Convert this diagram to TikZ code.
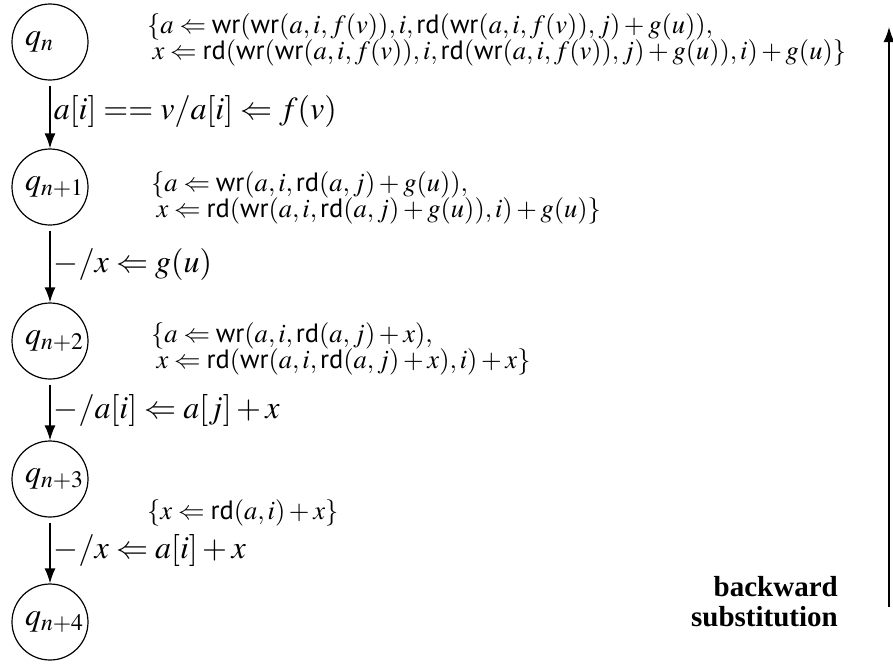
\documentclass[tikz,border=0pt]{standalone}
\usepackage{mathptmx}
\usepackage[no-math]{fontspec}
\setmainfont{Liberation Serif}
\newfontfamily\bwfont{Liberation Serif Bold}
\newfontfamily\opfont{PT Sans}
\usetikzlibrary{arrows.meta}
\newcommand{\opwr}{\mathord{\mbox{\opfont wr}}}
\newcommand{\oprd}{\mathord{\mbox{\opfont rd}}}
\begin{document}
\begin{tikzpicture}[x=1pt,y=-1pt,
  state/.style={circle, draw, line width=1.2pt, minimum size=76pt, inner sep=0pt, font=\fontsize{32}{36}\selectfont},
  tr/.style={-{Latex[length=15pt,width=11pt]}, line width=1.5pt},
  elab/.style={anchor=west, inner sep=3pt, font=\fontsize{32}{36}\selectfont},
  subst/.style={anchor=west, align=left, inner sep=0pt, font=\fontsize{26.5}{26.5}\selectfont},
  bwtext/.style={anchor=east, align=right, inner sep=0pt, font=\fontsize{29}{30}\selectfont\bwfont}]
\useasboundingbox (0,0) rectangle (893,664);
\node[state] (q0) at (50,42) {\makebox[50pt][l]{$q_n$}};
\node[state] (q1) at (50,187) {\makebox[50pt][l]{$q_{n+1}$}};
\node[state] (q2) at (50,341) {\makebox[50pt][l]{$q_{n+2}$}};
\node[state] (q3) at (50,479) {\makebox[50pt][l]{$q_{n+3}$}};
\node[state] (q4) at (50,622) {\makebox[50pt][l]{$q_{n+4}$}};
\draw[tr, shorten <=5pt] (q0) -- node[elab, yshift=3pt] (l0) {$a[i]==v/a[i]\Leftarrow f(v)$} (q1);
\draw[tr, shorten <=5pt] (q1) -- node[elab] (l1) {$-/x\Leftarrow g(u)$} (q2);
\draw[tr, shorten <=5pt] (q2) -- node[elab] (l2) {$-/a[i]\Leftarrow a[j]+x$} (q3);
\draw[tr, shorten <=5pt] (q3) -- node[elab] (l3) {$-/x\Leftarrow a[i]+x$} (q4);
\node[subst] (s0) at (147,40) {$\{a\Leftarrow \opwr(\opwr(a,i,f(v)),i,\oprd(\opwr(a,i,f(v)),j)+g(u)),$\\
  $\hspace{0.2em}x\Leftarrow \oprd(\opwr(\opwr(a,i,f(v)),i,\oprd(\opwr(a,i,f(v)),j)+g(u)),i)+g(u)\}$};
\node[subst] (s1) at (151,198) {$\{a\Leftarrow \opwr(a,i,\oprd(a,j)+g(u)),$\\
  $\hspace{0.2em}x\Leftarrow \oprd(\opwr(a,i,\oprd(a,j)+g(u)),i)+g(u)\}$};
\node[subst] (s2) at (151,349) {$\{a\Leftarrow \opwr(a,i,\oprd(a,j)+x),$\\
  $\hspace{0.2em}x\Leftarrow \oprd(\opwr(a,i,\oprd(a,j)+x),i)+x\}$};
\node[subst] (s3) at (147,513) {$\{x\Leftarrow \oprd(a,i)+x\}$};
\coordinate (bs) at (889,607);
\coordinate (bt) at (889,27);
\draw[tr] (bs) -- (bt);
\node[bwtext] (bw) at (838,602) {backward\\substitution};
\end{tikzpicture}
\end{document}
